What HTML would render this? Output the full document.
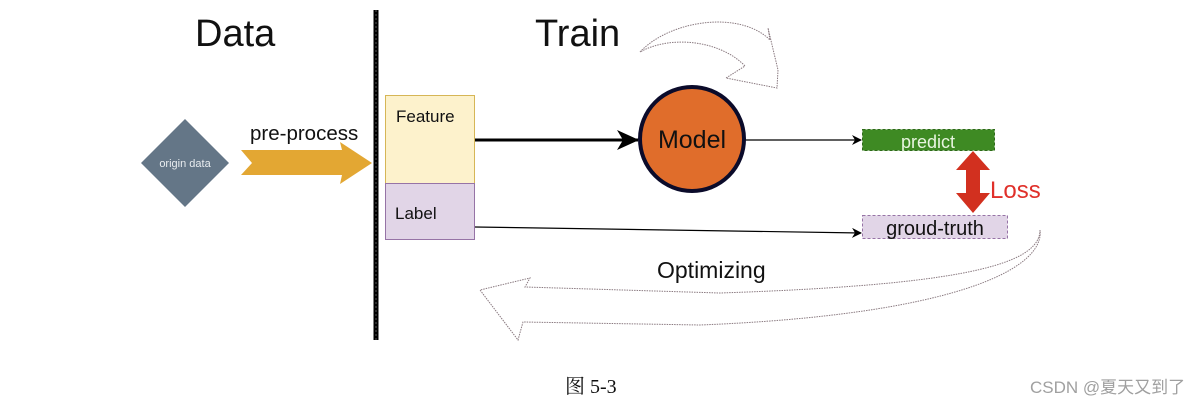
<!DOCTYPE html>
<html><head><meta charset="utf-8"><style>
html,body{margin:0;padding:0;background:#fff;}
svg{display:block;}
</style></head><body>
<svg width="1202" height="412" xmlns="http://www.w3.org/2000/svg" font-family="Liberation Sans, sans-serif">
<defs>
<marker id="ah" markerWidth="10" markerHeight="10" refX="9" refY="5" orient="auto" markerUnits="userSpaceOnUse"><path d="M0,0 L10,5 L0,10 L3,5 Z" fill="#000"/></marker>
<marker id="ahb" markerWidth="22" markerHeight="20" refX="21" refY="10" orient="auto" markerUnits="userSpaceOnUse"><path d="M0,0 L22,10 L0,20 L6,10 Z" fill="#000"/></marker>
</defs>
<text x="195" y="46" font-size="38" fill="#111">Data</text>
<text x="535" y="46" font-size="38" fill="#111">Train</text>
<line x1="376" y1="10" x2="376" y2="340" stroke="#000" stroke-width="5"/>
<line x1="376" y1="10" x2="376" y2="340" stroke="#555" stroke-width="1" stroke-dasharray="2,2"/>
<polygon points="185,119 229,163 185,207 141,163" fill="#647687"/>
<text x="185" y="167" font-size="11" fill="#e8ecef" text-anchor="middle">origin data</text>
<polygon points="241,150 342,150 340,142 372,163 340,184 342,175 241,175 252,163" fill="#e3a733"/>
<text x="250" y="140" font-size="20.5" fill="#111">pre-process</text>
<rect x="385.5" y="95.5" width="89" height="88" fill="#fdf2cc" stroke="#d6b656"/>
<rect x="385.5" y="183.5" width="89" height="56" fill="#e1d5e7" stroke="#9673a6"/>
<text x="396" y="122" font-size="17" fill="#111">Feature</text>
<text x="395" y="219" font-size="17" fill="#111">Label</text>
<line x1="475" y1="140" x2="638" y2="140" stroke="#000" stroke-width="3" marker-end="url(#ahb)"/>
<line x1="745" y1="140" x2="861" y2="140" stroke="#000" stroke-width="1.2" marker-end="url(#ah)"/>
<line x1="475" y1="227" x2="861" y2="233" stroke="#000" stroke-width="1.2" marker-end="url(#ah)"/>
<circle cx="692" cy="139" r="52" fill="#e06d2b" stroke="#0b0b2a" stroke-width="4"/>
<text x="692" y="148" font-size="25" fill="#111" text-anchor="middle">Model</text>
<rect x="862.5" y="129.5" width="132" height="21" fill="#3e8a23" stroke="#2d6b18" stroke-dasharray="3,2"/>
<text x="928" y="148" font-size="18" fill="#e8f5e0" text-anchor="middle">predict</text>
<rect x="862.5" y="215.5" width="145" height="23" fill="#e1d5e7" stroke="#9673a6" stroke-dasharray="3,2"/>
<text x="935" y="235" font-size="20" fill="#111" text-anchor="middle">groud-truth</text>
<polygon points="973,151 990,170 980,170 980,193 990,193 973,213 956,193 966,193 966,170 956,170" fill="#d2301f"/>
<text x="990" y="198" font-size="24" fill="#e0302a">Loss</text>
<path d="M640,52 C670,20 740,10 770,40 L768,28 L778,70 L777,88 L726,78 L745,66 C720,40 670,35 640,52 Z" fill="none" stroke="#8a7a80" stroke-width="1" stroke-dasharray="1.5,1"/>
<path d="M1040,230 C1040,265 960,285 720,293 L525,287 L530,278 L480,290 L518,340 L523,322 L700,325 C950,315 1045,270 1040,230 Z" fill="none" stroke="#8a7a80" stroke-width="1" stroke-dasharray="1.5,1"/>
<text x="657" y="278" font-size="23" fill="#111">Optimizing</text>
<text x="565" y="393" font-size="20" fill="#111" font-family="Liberation Serif, 'Noto Serif CJK SC', serif">图 5-3</text>
<text x="1030" y="393" font-size="17" fill="#a0a0a0" font-family="Liberation Sans, 'Noto Sans CJK SC', sans-serif">CSDN @夏天又到了</text>
</svg>
</body></html>
